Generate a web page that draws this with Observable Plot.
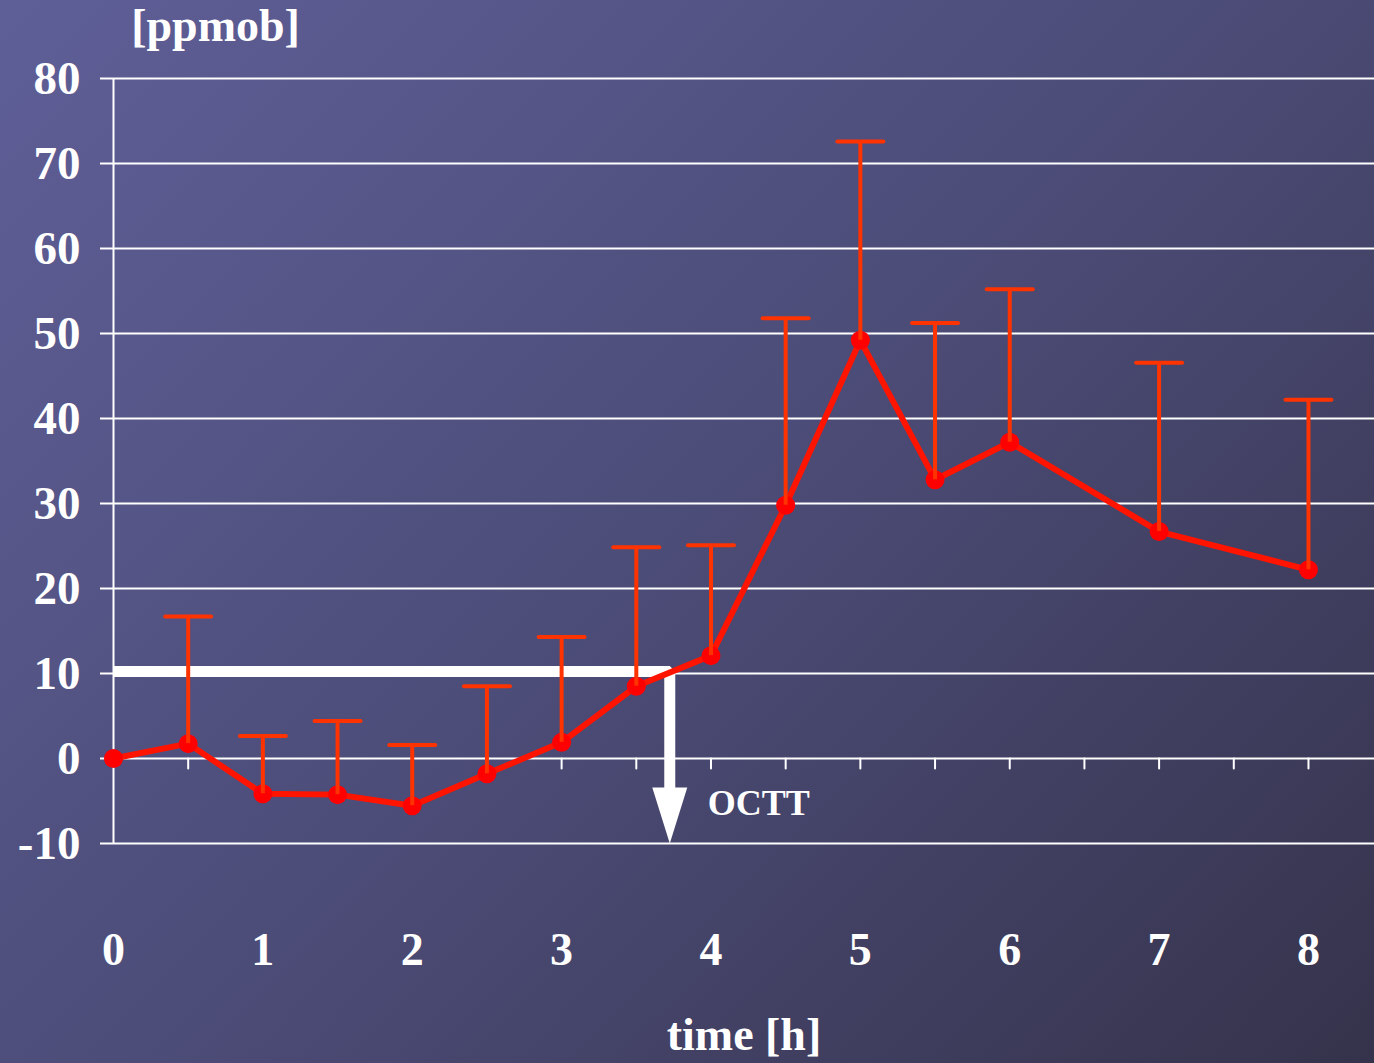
<!DOCTYPE html>
<html><head><meta charset="utf-8">
<script src="https://cdn.jsdelivr.net/npm/d3@7"></script>
<script src="https://cdn.jsdelivr.net/npm/@observablehq/plot@0.6"></script>
<style>
html,body{margin:0;padding:0;}
body{width:1374px;height:1063px;overflow:hidden;background:linear-gradient(135deg,#5f5f98 0%,#4c4c78 50%,#35334b 100%);}
#chart svg{display:block;}
</style></head><body><div id="chart"></div>
<script>
// time points [h]
const times = [0, 0.5, 1, 1.5, 2, 2.5, 3, 3.5, 4, 4.5, 5, 5.5, 6, 7, 8];
// mean values [ppmob]
const values = [0, 1.75, -4.15, -4.25, -5.55, -1.8, 1.9, 8.5, 12.1, 29.8, 49.2, 32.8, 37.2, 26.7, 22.2];
// upper end of error bars [ppmob]
const upper = [null, 16.7, 2.65, 4.4, 1.6, 8.5, 14.3, 24.85, 25.1, 51.8, 72.6, 51.25, 55.2, 46.55, 42.2];
const yTicks = [-10, 0, 10, 20, 30, 40, 50, 60, 70, 80];
const xTickLabels = [0, 1, 2, 3, 4, 5, 6, 7, 8];
const halfHourTicks = [0.5, 1, 1.5, 2, 2.5, 3, 3.5, 4, 4.5, 5, 5.5, 6, 6.5, 7, 7.5, 8];
const threshold = 10.25;   // ppmob
const octt = 3.724;        // h
const xMax = 8.442;
const yLabel = "[ppmob]";
const xLabel = "time [h]";
const octtLabel = "OCTT";

const data = times.map((t, i) => ({t, v: values[i], u: upper[i]}));
const bars = data.filter(d => d.u != null);
const thresholdPath = [
  {x: 0, y: threshold},
  {x: octt, y: threshold},
  {x: octt, y: -5}
];

const lineShape = {draw(ctx, l) { ctx.moveTo(0, 0); ctx.lineTo(0, -l); }};
const headShape = {draw(ctx, l) { ctx.moveTo(-17.5, 0); ctx.lineTo(0, -l); ctx.lineTo(17.5, 0); ctx.closePath(); }};

const serif = "'Liberation Serif', 'Times New Roman', serif";
const red = "#ff0000";
const errColor = "#ff3300";

const chart = Plot.plot({
  width: 1374, height: 1063,
  marginLeft: 113, marginRight: 0, marginTop: 78, marginBottom: 220,
  x: {domain: [0, xMax], axis: null},
  y: {domain: [-10, 80], axis: null},
  style: {background: "transparent", color: "white", fontFamily: serif, fontWeight: "bold", fontSize: "46px"},
  marks: [
    Plot.ruleY(yTicks, {x1: 0, x2: xMax, stroke: "white", strokeWidth: 2}),
    Plot.ruleX([0], {stroke: "white", strokeWidth: 2}),
    Plot.axisY({ticks: yTicks, tickSize: 13, tickPadding: 20, tickFormat: d => String(d),
      stroke: "white", strokeWidth: 2, fill: "white", fontSize: 47, fontWeight: "bold", fontFamily: serif}),
    Plot.axisX({ticks: xTickLabels, tickSize: 0, tickPadding: 89, tickFormat: d => String(d),
      fill: "white", fontSize: 46, fontWeight: "bold", fontFamily: serif}),
    Plot.vector(halfHourTicks.map(t => ({t})), {x: "t", y: () => 0, rotate: 180, anchor: "start", length: 10,
      shape: lineShape, stroke: "white", strokeWidth: 2}),
    Plot.line(thresholdPath, {x: "x", y: "y", stroke: "white", strokeWidth: 11, strokeLinejoin: "miter", strokeLinecap: "butt"}),
    Plot.vector([{x: octt, y: -10}], {x: "x", y: "y", rotate: 180, anchor: "end", length: 56,
      shape: headShape, fill: "white", stroke: "none"}),
    Plot.line(data, {x: "t", y: "v", stroke: "#ff1400", strokeWidth: 6}),
    Plot.dot(data, {x: "t", y: "v", r: 9.5, fill: red, stroke: "none"}),
    Plot.ruleX(bars, {x: "t", y1: "v", y2: "u", stroke: errColor, strokeWidth: 4}),
    Plot.vector(bars, {x: "t", y: "u", rotate: 90, anchor: "middle", length: 46,
      shape: lineShape, stroke: errColor, strokeWidth: 4}),
    Plot.text([{x: octt, y: -5, s: octtLabel}], {x: "x", y: "y", text: "s", dx: 38, dy: 2, textAnchor: "start",
      fill: "white", fontSize: 36, fontWeight: "bold", fontFamily: serif}),
    Plot.text([yLabel], {frameAnchor: "top-left", dx: 102, dy: -38, textAnchor: "middle", lineAnchor: "bottom",
      fill: "white", fontSize: 46, fontWeight: "bold", fontFamily: serif}),
    Plot.text([xLabel], {frameAnchor: "bottom", dy: 206, textAnchor: "middle", lineAnchor: "bottom",
      fill: "white", fontSize: 46, fontWeight: "bold", fontFamily: serif})
  ]
});
document.getElementById("chart").appendChild(chart);
</script>
</body></html>
